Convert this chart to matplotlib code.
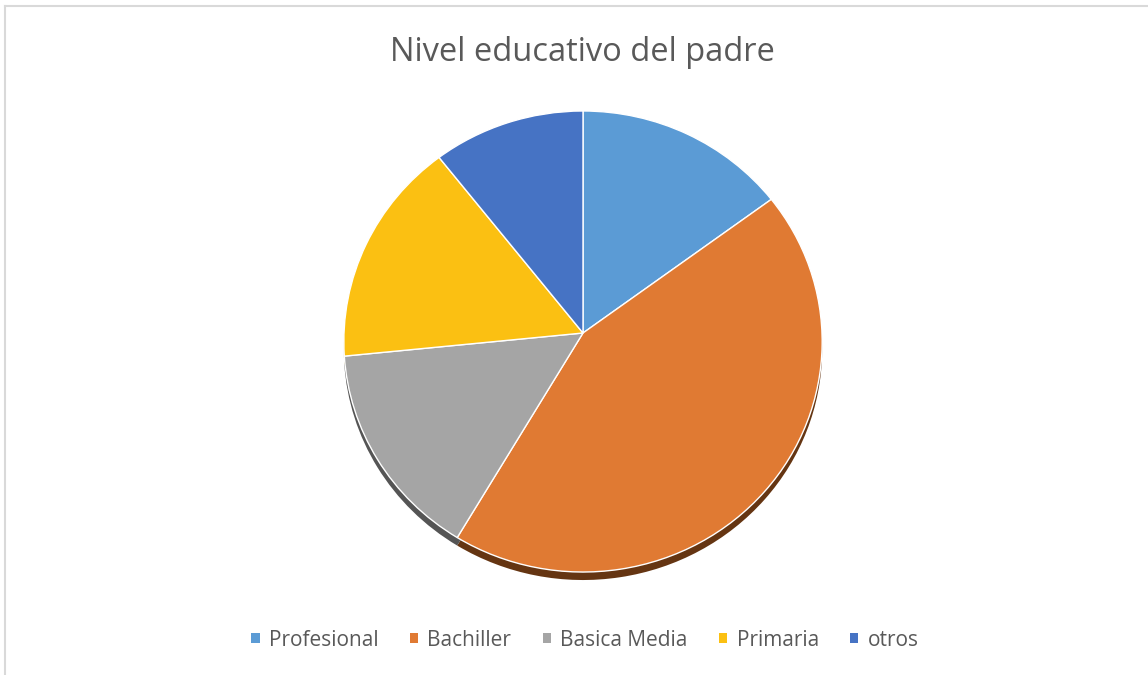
import matplotlib
matplotlib.use("Agg")
import numpy as np
import matplotlib.pyplot as plt
from matplotlib.patches import Patch
from matplotlib.lines import Line2D
from matplotlib.transforms import Transform, Affine2D
from matplotlib.path import Path

categories = ["Profesional", "Bachiller", "Basica Media", "Primaria", "otros"]
values = [14, 41, 14, 15, 10]
colors = ["#5B9BD5", "#E07A33", "#A5A5A5", "#FBC012", "#4673C4"]
shadow_colors = ["#2E5A85", "#653512", "#555555", "#8A6A00", "#223F73"]
title = "Nivel educativo del padre"

plt.rcParams['font.family'] = ['Open Sans', 'DejaVu Sans']

W, H = 1148, 675
CX, CY = 583, 333      # pie centre in pixels (y down)
RX, A, B = 239, 230.2, 0.0369   # perspective tilt parameters


class Tilt(Transform):
    """Slight perspective tilt of the unit disc (pixel output, y down)."""
    input_dims = 2
    output_dims = 2
    is_separable = False
    has_inverse = False

    def transform_non_affine(self, values):
        v = np.asarray(values, dtype=float)
        u, w = v[:, 0], v[:, 1]
        d = 1 + B * w
        return np.column_stack([CX + RX * u / d, CY - A * w / d])

    def transform_path_non_affine(self, path):
        return Path(self.transform_non_affine(path.vertices), path.codes)


fig = plt.figure(figsize=(W / 100, H / 100), dpi=100)
ax = fig.add_axes([0, 0, 1, 1])

wedges_s, _ = ax.pie(values, colors=shadow_colors, startangle=90, counterclock=False,
                     radius=1.0, wedgeprops=dict(linewidth=0))
wedges, _ = ax.pie(values, colors=colors, startangle=90, counterclock=False,
                   radius=1.0, wedgeprops=dict(edgecolor="white", linewidth=1.0))
ax.set_aspect("auto")
ax.set_xlim(0, W)
ax.set_ylim(H, 0)
ax.axis("off")

tilt = Tilt()
for w in wedges_s:
    w.set_transform(tilt + Affine2D().translate(0, 8) + ax.transData)
    w.set_clip_on(False)
for w in wedges:
    w.set_transform(tilt + ax.transData)
    w.set_clip_on(False)

# border lines
fig.add_artist(Line2D([5 / W, 1], [1 - 6 / H, 1 - 6 / H], color="#D9D9D9", lw=1.5, transform=fig.transFigure))
fig.add_artist(Line2D([5 / W, 5 / W], [0, 1 - 6 / H], color="#D9D9D9", lw=1.5, transform=fig.transFigure))

fig.text(582 / W, 1 - 61 / H, title, ha="center", va="baseline", fontsize=23.5, color="#595959")

handles = [Patch(facecolor=c, edgecolor="none") for c in colors]
fig.legend(handles, categories, loc="center", bbox_to_anchor=(585 / W, 1 - 640 / H),
           ncol=5, frameon=False, fontsize=15, labelcolor="#595959",
           handlelength=0.4, handleheight=0.4, handletextpad=0.45, columnspacing=1.5)

fig.savefig("out.png", dpi=100, facecolor="white")
